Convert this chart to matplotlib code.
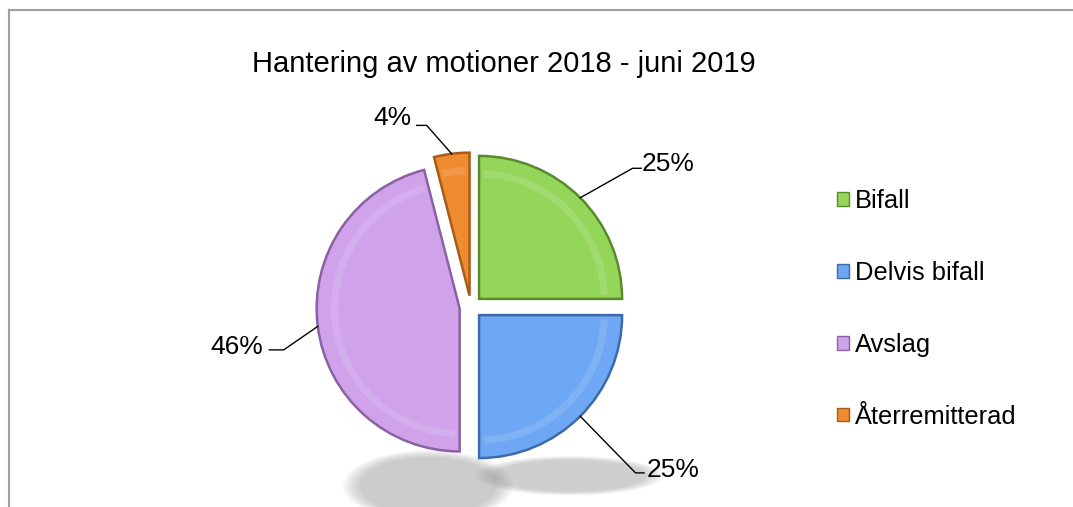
import matplotlib
matplotlib.use("Agg")
import matplotlib.pyplot as plt
import numpy as np
from matplotlib.patches import Patch, Ellipse, Wedge
from matplotlib.lines import Line2D

plt.rcParams['font.family'] = ['Liberation Sans', 'DejaVu Sans']

# data
categories = ["Bifall", "Delvis bifall", "Avslag", "Återremitterad"]
shares = [25, 25, 46, 4]
pct_labels = ["25%", "25%", "46%", "4%"]
colors = ["#94d65a", "#6ea8f4", "#cfa2ea", "#f08c30"]
edge_colors = ["#5a8a2c", "#3d6aa8", "#8a62a4", "#a85a18"]
title = "Hantering av motioner 2018 - juni 2019"

# layout in pixels
W, H = 1073, 507
cx, cy, r_px = 471, 307, 143   # pie centre (from top) and radius
explode = 0.08

fig = plt.figure(figsize=(W / 100, H / 100), dpi=100)
ax = fig.add_axes([0, 0, 1, 1])

# soft shadow under the pie
for (sx, sy, sw, sh, a) in [(-0.3, -1.25, 0.95, 0.36, 1.0), (0.69, -1.18, 1.05, 0.2, 0.85)]:
    for k in range(14):
        f = 1 + k * 0.02
        ax.add_patch(Ellipse((sx, sy), sw * f, sh * f * 1.1, color="#8a8a8a",
                             alpha=0.035 * a, lw=0, zorder=0))

wedges, _ = ax.pie(shares, colors=colors, startangle=90, counterclock=False,
                   explode=[explode] * len(shares),
                   wedgeprops=dict(linewidth=1.8, zorder=2))
ax.set_xlim(-cx / r_px, (W - cx) / r_px)
ax.set_ylim((cy - H) / r_px, cy / r_px)
ax.set_aspect("auto")
ax.axis("off")

for w, ec in zip(wedges, edge_colors):
    w.set_edgecolor(ec)
    # inner bevel highlight
    ax.add_patch(Wedge(w.center, 0.9, w.theta1 + 2, w.theta2 - 2, width=0.05,
                       facecolor="white", alpha=0.12, lw=0, zorder=3))

# label text positions (data units relative to pie centre)
text_pos = [(1.38, 1.0), (1.41, -1.14), (-1.64, -0.28), (-0.55, 1.32)]
elbow_pos = [(1.13, 0.97), (1.15, -1.16), (-1.31, -0.30), (-0.31, 1.27)]
elbow_end = [(1.19, 0.97), (1.21, -1.16), (-1.41, -0.30), (-0.38, 1.27)]

for w, lab, tp, ep, ee in zip(wedges, pct_labels, text_pos, elbow_pos, elbow_end):
    mid = np.deg2rad((w.theta1 + w.theta2) / 2)
    px = (1 + explode) * np.cos(mid)
    py = (1 + explode) * np.sin(mid)
    ax.plot([px, ep[0], ee[0]], [py, ep[1], ee[1]], color="black", lw=1, zorder=4)
    ax.text(tp[0], tp[1], lab, fontsize=19, ha="center", va="center", zorder=5)

fig.text(504 / W, 1 - 64 / H, title, fontsize=21, ha="center", va="center")

handles = [Patch(facecolor=c, edgecolor=e, linewidth=1) for c, e in zip(colors, edge_colors)]
fig.legend(handles, categories, loc="upper left", bbox_to_anchor=(827 / W, 1 - 179 / H),
           frameon=False, fontsize=18.4, handlelength=0.45, handleheight=0.45,
           handletextpad=0.25, labelspacing=1.87, borderaxespad=0)

# chart frame (cropped)
fig.add_artist(Line2D([9 / W, 1], [1 - 10 / H, 1 - 10 / H], color="#a0a0a0", lw=1.5))
fig.add_artist(Line2D([9 / W, 9 / W], [0, 1 - 10 / H], color="#a0a0a0", lw=1.5))

fig.savefig("out.png", dpi=100, facecolor="white")
